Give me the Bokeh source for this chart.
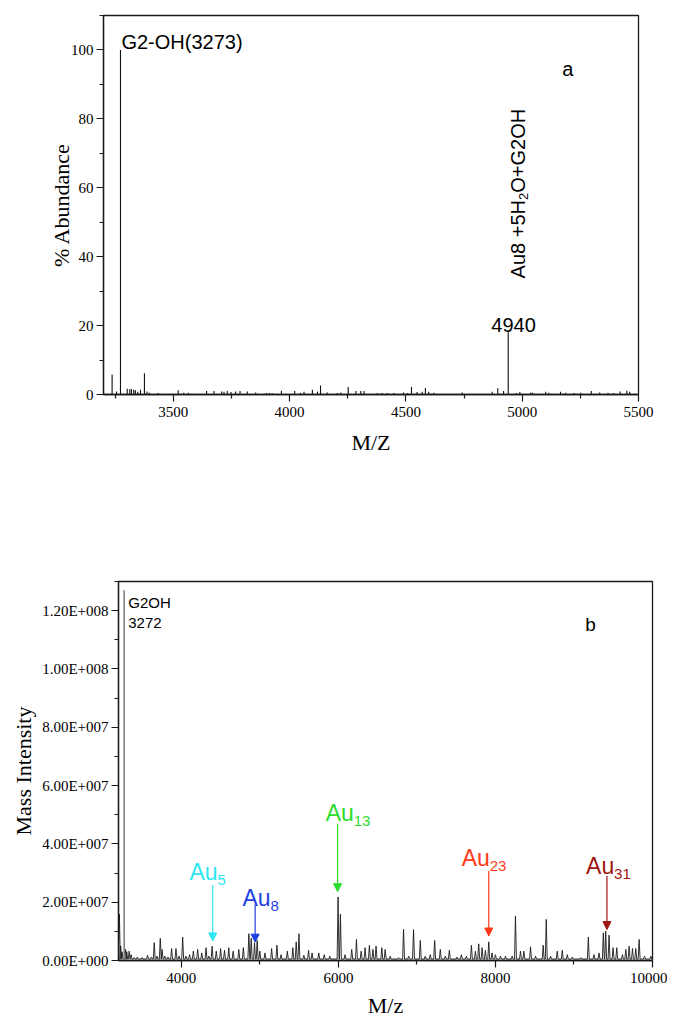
import math
from bokeh.plotting import figure
from bokeh.models import FixedTicker, Label, Arrow, NormalHead, ColumnDataSource
from bokeh.embed import file_html
from bokeh.resources import INLINE

# ---------------- Panel a data ----------------
a_mz = [3237, 3256, 3273, 3302, 3313, 3320, 3330, 3337, 3347, 3359, 3376, 3387, 3397, 3435,
        3521, 3545, 3565, 3643, 3675, 3708, 3718, 3732, 3748, 3768, 3787, 3818, 3854, 3900,
        3912, 3925, 3965, 4022, 4047, 4062, 4098, 4120, 4133, 4162, 4205, 4220, 4252, 4285,
        4306, 4320, 4377, 4398, 4420, 4448, 4490, 4508, 4524, 4548, 4570, 4584, 4598, 4620,
        4742, 4871, 4895, 4920, 4940, 4975, 4990, 5037, 5045, 5101, 5115, 5165, 5187, 5223,
        5252, 5297, 5333, 5369, 5393, 5421, 5450, 5462]
a_abund = [5.8, 0.9, 100, 1.7, 1.5, 1.6, 1.4, 1.2, 0.8, 1.4, 6.2, 0.9, 0.5, 0.4,
           1.2, 0.5, 0.5, 1.0, 1.0, 0.9, 0.8, 1.0, 0.7, 0.9, 1.0, 0.9, 0.6, 0.4,
           0.4, 0.4, 1.1, 1.0, 0.5, 0.8, 1.4, 0.9, 2.6, 0.6, 0.4, 0.6, 2.2, 1.0,
           1.0, 1.0, 0.4, 0.4, 0.4, 0.4, 0.6, 0.4, 2.2, 0.7, 0.8, 1.9, 0.8, 0.5,
           0.6, 0.8, 1.8, 1.0, 18.1, 0.4, 0.7, 0.6, 0.5, 0.8, 0.5, 0.8, 0.5, 0.4,
           0.5, 1.0, 0.6, 0.5, 0.4, 0.9, 1.1, 0.8]
a_xticks = [3500, 4000, 4500, 5000, 5500]
a_xminor = [3250, 3750, 4250, 4750, 5250]
a_yticks = [0, 20, 40, 60, 80, 100]
a_yminor = [10, 30, 50, 70, 90, 110]

# ---------------- Panel b data ----------------
b_main_mz = 3272
b_main_int_e7 = 12.7
b_mz = [3211, 3228, 3245, 3290, 3305, 3336, 3360, 3400, 3440, 3500, 3570, 3620, 3655, 3690,
        3732, 3755, 3790, 3830, 3876, 3932, 3970, 4017, 4060, 4105, 4153, 4208, 4260, 4315,
        4350, 4392, 4445, 4500, 4550, 4604, 4660, 4732, 4790, 4860, 4890, 4932, 4966, 5000,
        5065, 5150, 5217, 5270, 5350, 5420, 5463, 5498, 5560, 5620, 5665, 5750, 5820, 5890,
        5996, 6026, 6085, 6170, 6230, 6290, 6340, 6395, 6440, 6480, 6553, 6596, 6660, 6765,
        6830, 6895, 6957, 7043, 7106, 7170, 7226, 7298, 7362, 7413, 7511, 7566, 7630, 7694,
        7745, 7787, 7830, 7872, 7915, 7957, 8000, 8064, 8128, 8213, 8255, 8319, 8362, 8447,
        8511, 8608, 8647, 8702, 8787, 8851, 8915, 8979, 9085, 9183, 9255, 9319, 9374, 9404,
        9447, 9498, 9545, 9617, 9660, 9702, 9745, 9787, 9830, 9898, 9979]
b_int_e7 = [1.59, 0.5, 0.3, 0.38, 0.3, 0.32, 0.2, 0.1, 0.12, 0.1, 0.18, 0.12, 0.61, 0.15,
            0.76, 0.38, 0.15, 0.12, 0.41, 0.41, 0.15, 0.80, 0.15, 0.2, 0.32, 0.38, 0.26, 0.44,
            0.15, 0.49, 0.32, 0.41, 0.35, 0.44, 0.32, 0.38, 0.44, 0.92, 0.76, 0.61, 0.69, 0.32,
            0.26, 0.41, 0.53, 0.2, 0.32, 0.44, 0.64, 0.92, 0.18, 0.35, 0.26, 0.26, 0.2, 0.15,
            2.18, 1.59, 0.2, 0.38, 0.72, 0.32, 0.44, 0.52, 0.38, 0.49, 0.44, 0.38, 0.15, 0.1,
            1.07, 0.15, 1.06, 0.69, 0.15, 0.2, 0.69, 0.38, 0.15, 0.35, 0.12, 0.2, 0.15, 0.52,
            0.32, 0.57, 0.44, 0.35, 0.64, 0.26, 0.2, 0.15, 0.15, 0.15, 1.53, 0.32, 0.32, 0.47,
            0.15, 0.53, 1.41, 0.15, 0.32, 0.35, 0.2, 0.12, 0.1, 0.80, 0.2, 0.26, 0.95, 1.01,
            0.87, 0.44, 0.44, 0.2, 0.38, 0.49, 0.41, 0.41, 0.72, 0.15, 0.15]
b_base_e7 = 0.05
b_xticks = [4000, 6000, 8000, 10000]
b_xminor = [3000, 5000, 7000, 9000]
b_yticks = [0, 2e7, 4e7, 6e7, 8e7, 1e8, 1.2e8]
b_ytick_labels = ["0.00E+000", "2.00E+007", "4.00E+007", "6.00E+007", "8.00E+007",
                  "1.00E+008", "1.20E+008"]
b_yminor = [1e7, 3e7, 5e7, 7e7, 9e7, 1.1e8, 1.3e8]

# cluster annotations
cl_name = ["Au", "Au", "Au", "Au", "Au"]
cl_sub = ["5", "8", "13", "23", "31"]
cl_mz = [4400, 4940, 5990, 7915, 9420]
cl_arrow_top_e7 = [2.59, 1.92, 4.68, 3.07, 2.90]
cl_arrow_tip_e7 = [0.67, 0.63, 2.36, 0.84, 1.06]
cl_label_x = [4103, 4779, 5839, 7571, 9154]
cl_label_y_e7 = [3.03, 2.14, 5.07, 3.51, 3.24]
cl_color = ["#2ee6f0", "#1f3fe0", "#2edc2e", "#ff3a1a", "#a01510"]

SERIF = "Liberation Serif"
SANS = "Liberation Sans"


def style_axes(p, xt, xm, yt, ym):
    p.outline_line_color = "#1a1a1a"
    p.outline_line_width = 1.3
    p.xgrid.visible = False
    p.ygrid.visible = False
    p.xaxis.ticker = FixedTicker(ticks=xt, minor_ticks=xm)
    p.yaxis.ticker = FixedTicker(ticks=yt, minor_ticks=ym)
    p.axis.major_label_text_font = SERIF
    p.axis.major_label_text_font_size = "15px"
    p.axis.major_label_text_color = "black"
    for ax in (p.xaxis[0], p.yaxis[0]):
        ax.axis_line_color = "#1a1a1a"
        ax.axis_line_width = 1.3
        ax.major_tick_line_color = "#1a1a1a"
        ax.minor_tick_line_color = "#1a1a1a"
        ax.major_tick_line_width = 1.2
        ax.minor_tick_line_width = 1.2
        ax.major_tick_out = 7
        ax.major_tick_in = 0
        ax.minor_tick_out = 4
        ax.minor_tick_in = 0
        ax.axis_label_text_font = SERIF
        ax.axis_label_text_font_size = "22px"
        ax.axis_label_text_font_style = "normal"
        ax.axis_label_text_color = "black"


# ---------------- Panel a ----------------
p1 = figure(width=667, height=478, x_range=(3200, 5500), y_range=(0, 110),
            output_backend="svg", toolbar_location=None,
            min_border_left=103, min_border_right=29, min_border_top=15, min_border_bottom=84)
style_axes(p1, a_xticks, a_xminor, a_yticks, a_yminor)
p1.xaxis.axis_label = "M/Z"
p1.yaxis.axis_label = "% Abundance"
p1.xaxis.major_label_standoff = 5
p1.yaxis.major_label_standoff = 3
p1.xaxis.axis_label_standoff = 10
p1.yaxis.axis_label_standoff = -6

src_a = ColumnDataSource(dict(x=a_mz, y=a_abund, y0=[0] * len(a_mz)))
p1.segment(x0="x", y0="y0", x1="x", y1="y", source=src_a, line_color="#111111", line_width=1.1)

p1.add_layout(Label(x=3277, y=102.2, text="G2-OH(3273)", text_font=SANS, text_font_size="20px",
                    text_color="black", text_align="left", text_baseline="alphabetic"))
p1.add_layout(Label(x=5172, y=94.5, text="a", text_font=SANS, text_font_size="20px",
                    text_color="black", text_align="left", text_baseline="alphabetic"))
p1.add_layout(Label(x=4867, y=20.1, text="4940", text_font=SANS, text_font_size="20px",
                    text_color="black", text_align="left", text_baseline="alphabetic"))
rot = math.pi / 2
p1.add_layout(Label(x=4984, y=33.7, text="Au8 +5H", angle=rot, angle_units="rad",
                    text_font=SANS, text_font_size="20px", text_color="black",
                    text_align="left", text_baseline="alphabetic"))
p1.add_layout(Label(x=4984, y=33.7, text="2", angle=rot, angle_units="rad", x_offset=5, y_offset=78.4,
                    text_font=SANS, text_font_size="13px", text_color="black",
                    text_align="left", text_baseline="alphabetic"))
p1.add_layout(Label(x=4984, y=33.7, text="O+G2OH", angle=rot, angle_units="rad", y_offset=85.6,
                    text_font=SANS, text_font_size="20px", text_color="black",
                    text_align="left", text_baseline="alphabetic"))

# ---------------- Panel b ----------------
p2 = figure(width=667, height=544, x_range=(3200, 10000), y_range=(0, 1.3e8),
            output_backend="svg", toolbar_location=None,
            min_border_left=118, min_border_right=15, min_border_top=103, min_border_bottom=62)
style_axes(p2, b_xticks, b_xminor, b_yticks, b_yminor)
p2.yaxis.major_label_overrides = {t: lab for t, lab in zip(b_yticks, b_ytick_labels)}
p2.xaxis.axis_label = "M/z"
p2.yaxis.axis_label = "Mass Intensity"
p2.xaxis.major_label_standoff = 5
p2.yaxis.major_label_standoff = 3
p2.xaxis.axis_label_standoff = 7
p2.yaxis.axis_label_standoff = 3

hw = 12
tx, ty = [3200], [b_base_e7 * 1e7]
for m, v in zip(b_mz, b_int_e7):
    tx += [m - hw, m, m + hw]
    ty += [b_base_e7 * 1e7, v * 1e7, b_base_e7 * 1e7]
tx.append(10000)
ty.append(b_base_e7 * 1e7)
p2.line(tx, ty, line_color="#1a1a1a", line_width=0.9)
p2.segment(x0=[b_main_mz], y0=[0], x1=[b_main_mz], y1=[b_main_int_e7 * 1e7],
           line_color="#808080", line_width=1.6)

p2.add_layout(Label(x=3324, y=1.228e8, text="G2OH", text_font=SANS, text_font_size="15px",
                    text_color="black", text_align="left", text_baseline="alphabetic"))
p2.add_layout(Label(x=3324, y=1.159e8, text="3272", text_font=SANS, text_font_size="15px",
                    text_color="black", text_align="left", text_baseline="alphabetic"))
p2.add_layout(Label(x=9145, y=1.152e8, text="b", text_font=SANS, text_font_size="19px",
                    text_color="black", text_align="left", text_baseline="alphabetic"))

for name, sub, mz, at, ae, lx, ly, c in zip(cl_name, cl_sub, cl_mz, cl_arrow_top_e7,
                                            cl_arrow_tip_e7, cl_label_x, cl_label_y_e7, cl_color):
    p2.add_layout(Arrow(end=NormalHead(size=8, fill_color=c, line_color=c, line_width=1),
                        x_start=mz, y_start=at * 1e7, x_end=mz, y_end=ae * 1e7,
                        line_color=c, line_width=1.2))
    p2.add_layout(Label(x=lx, y=ly * 1e7, text=name, text_font=SANS, text_font_size="23px",
                        text_color=c, text_align="left", text_baseline="alphabetic"))
    p2.add_layout(Label(x=lx, y=ly * 1e7, text=sub, x_offset=28, y_offset=-8, text_font=SANS,
                        text_font_size="15px", text_color=c, text_align="left",
                        text_baseline="alphabetic"))

open("out.html", "w").write(file_html([p1, p2], INLINE))
